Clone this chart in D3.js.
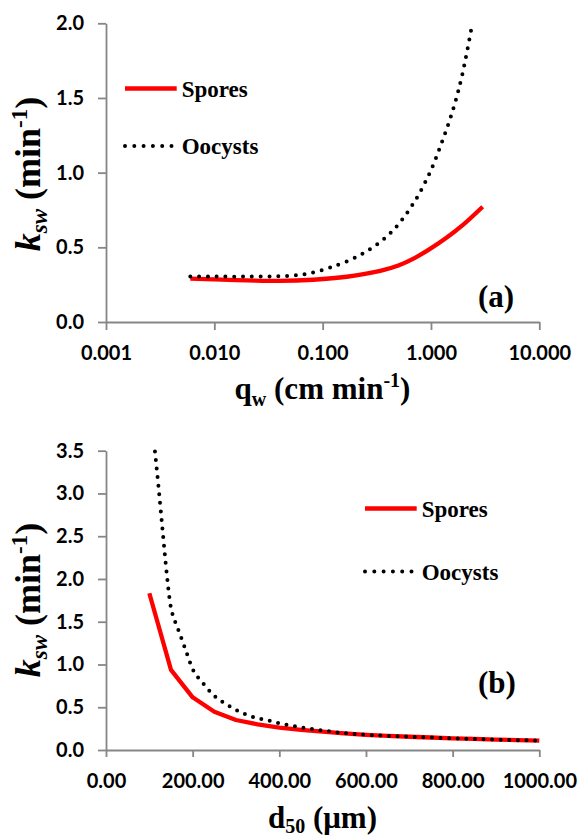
<!DOCTYPE html>
<html>
<head>
<meta charset="utf-8">
<script src="https://cdn.jsdelivr.net/npm/d3@7"></script>
<style>
  body { margin: 0; background: #fff; }
  svg { display: block; }
</style>
</head>
<body>
<svg id="chart" width="582" height="836"></svg>
<script>
// ---------- Data: panel (a) ----------
const qSpores   = [0.006, 0.01, 0.02, 0.04, 0.082, 0.167, 0.34, 0.5, 0.69, 0.98, 1.4, 2.0, 3.0];
const kSporesA  = [0.290, 0.285, 0.279, 0.275, 0.283, 0.303, 0.342, 0.378, 0.424, 0.490, 0.566, 0.654, 0.772];
const qOocysts  = [0.006, 0.01, 0.02, 0.047, 0.069, 0.117, 0.23, 0.42, 0.67, 0.96, 1.27, 1.61, 1.95, 2.41];
const kOocystsA = [0.304, 0.304, 0.304, 0.308, 0.321, 0.364, 0.455, 0.594, 0.781, 0.989, 1.21, 1.43, 1.66, 2.0];
const xTicksA = [0.001, 0.01, 0.1, 1, 10];
const yTicksA = [0, 0.5, 1.0, 1.5, 2.0];

// ---------- Data: panel (b) ----------
const dSpores  = [100,150,200,250,300,350,400,450,500,550,600,650,700,750,800,850,900,950,1000];
const kSporesB = [1.833,0.936,0.616,0.448,0.351,0.300,0.262,0.235,0.214,0.195,0.178,0.166,0.155,0.146,0.137,0.130,0.122,0.115,0.109];
const dOocysts  = [113,120,130,140,148,155,163,170,176,183,190,197,205,218,232,245,260,278,295,313,332,351,371,400,450,500,550,600,700,800,900,1000];
const kOocystsB = [3.49,3.14,2.60,2.07,1.72,1.56,1.46,1.36,1.28,1.18,1.08,0.98,0.90,0.815,0.733,0.655,0.593,0.534,0.483,0.436,0.398,0.370,0.350,0.312,0.266,0.228,0.197,0.178,0.155,0.137,0.122,0.109];
const xTicksB = [0, 200, 400, 600, 800, 1000];
const yTicksB = [0, 0.5, 1.0, 1.5, 2.0, 2.5, 3.0, 3.5];

const seriesNames = ["Spores", "Oocysts"];
const panelLabels = ["(a)", "(b)"];

// ---------- Styles ----------
const AXIS_COLOR = "#868686";
const SERIF = "Liberation Serif";
const SANS = "Lato";
const RED = "#ff0000";

const svg = d3.select("#chart");

function styleAxis(g) {
  g.select(".domain").attr("stroke", AXIS_COLOR).attr("stroke-width", 1.8);
  g.selectAll(".tick line").attr("stroke", AXIS_COLOR).attr("stroke-width", 1.8);
  g.selectAll(".tick text")
    .attr("font-family", SANS).attr("font-weight", "bold")
    .attr("font-size", 20).attr("fill", "#000");
}

function yTitle(cx, cy) {
  const t = svg.append("text")
    .attr("transform", `translate(${cx},${cy}) rotate(-90)`)
    .attr("text-anchor", "middle")
    .style("font-family", SERIF).attr("font-weight", "bold")
    .attr("font-size", 36).attr("fill", "#000");
  t.append("tspan").attr("font-style", "italic").text("k");
  t.append("tspan").attr("font-style", "italic").attr("font-size", 23).attr("dy", 7).text("sw");
  t.append("tspan").attr("dy", -7).text(" (min");
  t.append("tspan").attr("font-size", 23).attr("dy", -13).text("-1");
  t.append("tspan").attr("dy", 13).text(")");
}

function legend(x0, yLine1, yLine2) {
  svg.append("line").attr("x1", x0).attr("x2", x0 + 51.7)
    .attr("y1", yLine1).attr("y2", yLine1)
    .attr("stroke", RED).attr("stroke-width", 4.3);
  svg.append("line").attr("x1", x0).attr("x2", x0 + 47)
    .attr("y1", yLine2).attr("y2", yLine2)
    .attr("stroke", "#000").attr("stroke-width", 4)
    .attr("stroke-linecap", "round").attr("stroke-dasharray", "0 9.3");
  [[yLine1, seriesNames[0]], [yLine2, seriesNames[1]]].forEach(([y, name]) => {
    svg.append("text").attr("x", x0 + 56.7).attr("y", y + 8)
      .style("font-family", SERIF).attr("font-weight", "bold")
      .attr("font-size", 23).attr("fill", "#000").text(name);
  });
}

// ================= Panel (a) =================
const xA = d3.scaleLog().domain([0.001, 10]).range([106, 539.3]);
const yA = d3.scaleLinear().domain([0, 2]).range([322, 23.3]);

svg.append("clipPath").attr("id", "clipA").append("rect")
  .attr("x", 106).attr("y", 21).attr("width", 440).attr("height", 303);

const gxA = svg.append("g").attr("transform", "translate(0,322)")
  .call(d3.axisBottom(xA).tickValues(xTicksA).tickFormat(d => d.toFixed(3))
    .tickSize(8).tickSizeOuter(0));
styleAxis(gxA);
gxA.selectAll(".tick text").attr("y", 38).attr("dy", 0);

const gyA = svg.append("g").attr("transform", "translate(106,0)")
  .call(d3.axisLeft(yA).tickValues(yTicksA).tickFormat(d3.format(".1f"))
    .tickSize(8).tickSizeOuter(0).tickPadding(14));
styleAxis(gyA);

const lineA = d3.line().x(d => xA(d[0])).y(d => yA(d[1])).curve(d3.curveCatmullRom.alpha(0.5));

svg.append("path").datum(d3.zip(qSpores, kSporesA))
  .attr("clip-path", "url(#clipA)")
  .attr("d", lineA).attr("fill", "none")
  .attr("stroke", RED).attr("stroke-width", 4.3);

svg.append("path").datum(d3.zip(qOocysts, kOocystsA))
  .attr("clip-path", "url(#clipA)")
  .attr("d", lineA).attr("fill", "none")
  .attr("stroke", "#000").attr("stroke-width", 4)
  .attr("stroke-linecap", "round").attr("stroke-dasharray", "0 8.8");

legend(125, 88.5, 146);

svg.append("text").attr("x", 478).attr("y", 307)
  .style("font-family", SERIF).attr("font-weight", "bold")
  .attr("font-size", 31).attr("fill", "#000").text(panelLabels[0]);

yTitle(40, 174);

{
  const t = svg.append("text").attr("x", 322.5).attr("y", 399)
    .attr("text-anchor", "middle")
    .style("font-family", SERIF).attr("font-weight", "bold")
    .attr("font-size", 31).attr("fill", "#000");
  t.append("tspan").text("q");
  t.append("tspan").attr("font-size", 20).attr("dy", 7).text("w");
  t.append("tspan").attr("dy", -7).text(" (cm min");
  t.append("tspan").attr("font-size", 20).attr("dy", -12).text("-1");
  t.append("tspan").attr("dy", 12).text(")");
}

// ================= Panel (b) =================
const xB = d3.scaleLinear().domain([0, 1000]).range([106, 539.3]);
const yB = d3.scaleLinear().domain([0, 3.5]).range([750, 450.7]);

svg.append("clipPath").attr("id", "clipB").append("rect")
  .attr("x", 106).attr("y", 448).attr("width", 440).attr("height", 304);

const gxB = svg.append("g").attr("transform", "translate(0,750)")
  .call(d3.axisBottom(xB).tickValues(xTicksB).tickFormat(d3.format(".2f"))
    .tickSize(7).tickSizeOuter(0));
styleAxis(gxB);
gxB.selectAll(".tick text").attr("y", 38).attr("dy", 0);

const gyB = svg.append("g").attr("transform", "translate(106,0)")
  .call(d3.axisLeft(yB).tickValues(yTicksB).tickFormat(d3.format(".1f"))
    .tickSize(8).tickSizeOuter(0).tickPadding(14));
styleAxis(gyB);

const lineBLin = d3.line().x(d => xB(d[0])).y(d => yB(d[1]));
const lineBSmooth = d3.line().x(d => xB(d[0])).y(d => yB(d[1])).curve(d3.curveMonotoneX);

svg.append("path").datum(d3.zip(dSpores, kSporesB))
  .attr("clip-path", "url(#clipB)")
  .attr("d", lineBLin).attr("fill", "none")
  .attr("stroke", RED).attr("stroke-width", 4.3)
  .attr("stroke-linejoin", "round");

svg.append("path").datum(d3.zip(dOocysts, kOocystsB))
  .attr("clip-path", "url(#clipB)")
  .attr("d", lineBSmooth).attr("fill", "none")
  .attr("stroke", "#000").attr("stroke-width", 4)
  .attr("stroke-linecap", "round").attr("stroke-dasharray", "0 8.6");

legend(365, 508.5, 571.5);

svg.append("text").attr("x", 478).attr("y", 693)
  .style("font-family", SERIF).attr("font-weight", "bold")
  .attr("font-size", 31).attr("fill", "#000").text(panelLabels[1]);

yTitle(40, 600);

{
  const t = svg.append("text").attr("x", 322.5).attr("y", 828)
    .attr("text-anchor", "middle")
    .style("font-family", SERIF).attr("font-weight", "bold")
    .attr("font-size", 31).attr("fill", "#000");
  t.append("tspan").text("d");
  t.append("tspan").attr("font-size", 20).attr("dy", 5).text("50");
  t.append("tspan").attr("dy", -5).text(" (μm)");
}
</script>
</body>
</html>
